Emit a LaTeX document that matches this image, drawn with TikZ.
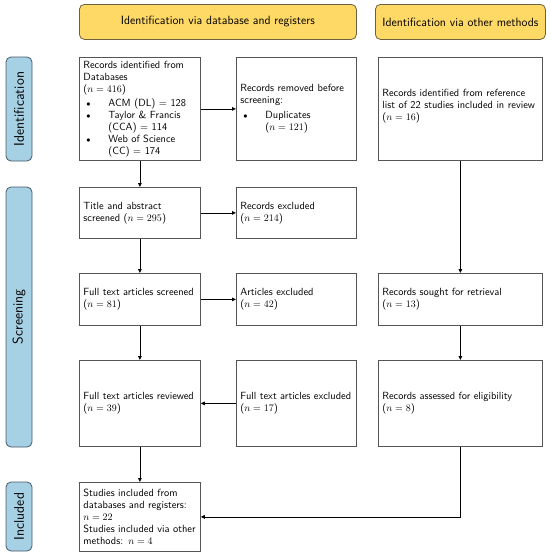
\documentclass[tikz,border=0pt]{standalone}
\usetikzlibrary{arrows.meta}
\definecolor{hdrfill}{RGB}{255,217,102}
\definecolor{hdrdraw}{RGB}{110,96,60}
\definecolor{sidefill}{RGB}{166,208,228}
\definecolor{sidedraw}{RGB}{70,88,105}
\definecolor{boxdraw}{RGB}{85,85,85}
\newcommand\myitem{\makebox[25pt][l]{\hspace{3pt}{\footnotesize$\bullet$}}}
\newcommand\myind{\hspace*{25pt}}
\tikzset{
  bx/.style={draw=boxdraw, line width=0.8pt, anchor=north west, inner xsep=4pt, inner ysep=2pt, align=left, font=\fontsize{10.4pt}{12pt}\sffamily},
  hdr/.style={draw=hdrdraw, fill=hdrfill, line width=0.8pt, rounded corners=5pt, anchor=north west, font=\fontsize{12pt}{14pt}\sffamily, inner sep=0pt},
  side/.style={draw=sidedraw, fill=sidefill, line width=0.8pt, rounded corners=5pt, rotate=90, font=\fontsize{14pt}{16pt}\sffamily, inner sep=0pt, minimum height=26pt},
  arr/.style={-{Triangle[length=4pt,width=3.6pt]}, line width=0.8pt, black}
}
\begin{document}
\begin{tikzpicture}[x=1pt,y=-1pt]
\useasboundingbox (0,0) rectangle (550,555);
% headers
\node[hdr, minimum width=277pt, minimum height=35pt] (h1) at (79,4) {Identification via database and registers};
\node[hdr, minimum width=170pt, minimum height=35pt] (h2) at (375,4) {Identification via other methods};
% side labels
\node[side, minimum width=104pt] (s1) at (19,109) {Identification};
\node[side, minimum width=260pt] (s2) at (19,317) {Screening};
\node[side, minimum width=69pt] (s3) at (19,516.5) {Included};
% row 1
\node[bx, text width=113pt, minimum height=103pt] (a1) at (79,57) {Records identified from\\Databases\\($n = 416$)\\[2pt]%
\myitem ACM (DL) = 128\\
\myitem Taylor \& Francis\\
\myind (CCA) = 114\\
\myitem Web of Science\\
\myind (CC) = 174};
\node[bx, text width=112pt, minimum height=103pt] (b1) at (236,57) {Records removed before\\screening:\\[3pt]%
\myitem Duplicates\\
\myind ($n = 121$)};
\node[bx, text width=156pt, minimum height=103pt] (c1) at (378,57) {Records identified from reference\\list of 22 studies included in review\\($n = 16$)\\[-3pt]\mbox{}};
% row 2
\node[bx, text width=113pt, minimum height=51pt] (a2) at (79,187) {Title and abstract\\screened ($n = 295$)};
\node[bx, text width=112pt, minimum height=51pt] (b2) at (236,187) {Records excluded\\($n = 214$)};
% row 3
\node[bx, text width=113pt, minimum height=52pt] (a3) at (79,273) {Full text articles screened\\($n = 81$)};
\node[bx, text width=112pt, minimum height=52pt] (b3) at (236,273) {Articles excluded\\($n = 42$)};
\node[bx, text width=156pt, minimum height=52pt] (c3) at (378,273) {Records sought for retrieval\\($n = 13$)};
% row 4
\node[bx, text width=113pt, minimum height=86pt] (a4) at (79,360) {Full text articles reviewed\\($n = 39$)};
\node[bx, text width=112pt, minimum height=86pt] (b4) at (236,360) {Full text articles excluded\\($n = 17$)};
\node[bx, text width=156pt, minimum height=86pt] (c4) at (378,360) {Records assessed for eligibility\\($n = 8$)};
% row 5
\node[bx, text width=113pt, minimum height=69pt] (a5) at (79,482) {Studies included from\\databases and registers:\\$n = 22$\\Studies included via other\\methods: $n = 4$};
% connectors
\draw[arr] (a1) -- (b1);
\draw[arr] (a1) -- (a2);
\draw[arr] (a2) -- (b2);
\draw[arr] (a2) -- (a3);
\draw[arr] (a3) -- (b3);
\draw[arr] (a3) -- (a4);
\draw[arr] (b4) -- (a4);
\draw[arr] (a4) -- (a5);
\draw[arr] (c1) -- (c3);
\draw[arr] (c3) -- (c4);
\draw[arr] (c4.south) |- (a5.east);
\end{tikzpicture}
\end{document}
